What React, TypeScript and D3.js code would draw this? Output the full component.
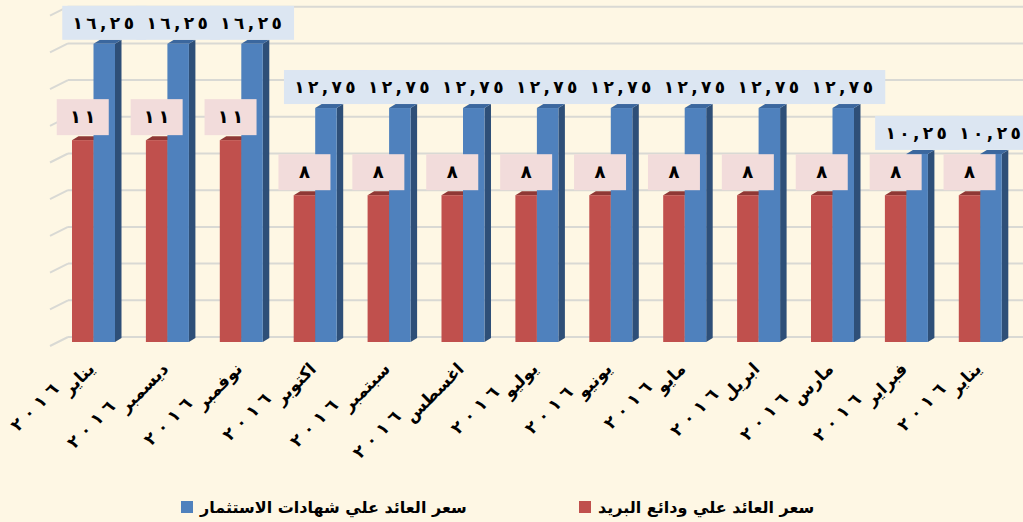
import { useEffect, useRef } from "react";
import * as d3 from "d3";

const months = ["يناير", "ديسمبر", "نوفمبر", "اكتوبر", "سبتمبر", "اغسطس", "يوليو", "يونيو", "مايو", "ابريل", "مارس", "فبراير", "يناير"];
const years = ["٢٠١٦", "٢٠١٦", "٢٠١٦", "٢٠١٦", "٢٠١٦", "٢٠١٦", "٢٠١٦", "٢٠١٦", "٢٠١٦", "٢٠١٦", "٢٠١٦", "٢٠١٦", "٢٠١٦"];
const postRates = [11, 11, 11, 8, 8, 8, 8, 8, 8, 8, 8, 8, 8];
const certRates = [16.25, 16.25, 16.25, 12.75, 12.75, 12.75, 12.75, 12.75, 12.75, 12.75, 12.75, 10.25, 10.25];
const seriesNames = ["سعر العائد علي ودائع البريد", "سعر العائد علي شهادات الاستثمار"];
const gridTicks = [0, 2, 4, 6, 8, 10, 12, 14, 16, 18];

const arDigits = "٠١٢٣٤٥٦٧٨٩";
const toArabic = (v: number) =>
  String(v).replace(".", ",").replace(/[0-9]/g, d => arDigits[+d]);
// force left-to-right glyph order and spread the characters out
const spaced = (s: string, sep: string) => "\u202D" + Array.from(s).join(sep) + "\u202C";

const FONT = "'DejaVu Sans', sans-serif";

export default function App() {
  const svgRef = useRef<SVGSVGElement>(null);

  useEffect(() => {
    const svg = d3.select(svgRef.current);
    svg.selectAll("*").remove();

    const width = 1023;
    const height = 522;
    svg.attr("width", width).attr("height", height);

    svg.append("rect").attr("width", width).attr("height", height).attr("fill", "#fef7e4");

    const y = d3.scaleLinear().domain([0, 18]).range([342, 11.7]);
    const x0 = d3.scaleBand<number>()
      .domain(d3.range(months.length))
      .range([56.55, 1017.25])
      .paddingInner(0.418)
      .paddingOuter(0.209);
    const x1 = d3.scaleBand<string>().domain(["post", "cert"]).range([0, x0.bandwidth()]);

    const depthX = 6.5;
    const depthY = -4;
    const wallBack = 68;
    const wallFront = 50;
    const backShift = -5;

    // walls / gridlines
    const grid = svg.append("g");
    grid.selectAll("line.h")
      .data(gridTicks)
      .enter()
      .append("line")
      .attr("x1", wallBack)
      .attr("x2", width)
      .attr("y1", d => y(d) + backShift)
      .attr("y2", d => y(d) + backShift)
      .attr("stroke", "#d9d9d4")
      .attr("stroke-width", 2);
    grid.selectAll("line.d")
      .data(gridTicks)
      .enter()
      .append("line")
      .attr("x1", wallFront)
      .attr("x2", wallBack)
      .attr("y1", d => y(d) + backShift + 9)
      .attr("y2", d => y(d) + backShift)
      .attr("stroke", "#d9d9d4")
      .attr("stroke-width", 2);

    const bar = (g: any, x: number, w: number, v: number, front: string, top: string, side: string) => {
      const yt = y(v);
      const yb = y(0);
      g.append("path")
        .attr("d", `M${x + w},${yb} L${x + w + depthX},${yb + depthY} L${x + w + depthX},${yt + depthY} L${x + w},${yt} Z`)
        .attr("fill", side);
      g.append("path")
        .attr("d", `M${x},${yt} L${x + depthX},${yt + depthY} L${x + w + depthX},${yt + depthY} L${x + w},${yt} Z`)
        .attr("fill", top);
      g.append("rect")
        .attr("x", x)
        .attr("y", yt)
        .attr("width", w)
        .attr("height", yb - yt)
        .attr("fill", front);
    };

    const bars = svg.append("g");
    months.forEach((_, i) => {
      const g = bars.append("g");
      const gx = x0(i)!;
      bar(g, gx + x1("post")!, x1.bandwidth(), postRates[i], "#c0504d", "#8f3835", "#7d2f2d");
      bar(g, gx + x1("cert")!, x1.bandwidth(), certRates[i], "#4f81bd", "#3b679e", "#2e4f78");
    });

    // data labels
    const labels = svg.append("g").attr("font-family", FONT).attr("font-weight", "bold");
    months.forEach((_, i) => {
      const cx = x0(i)! + x1("post")! + x1.bandwidth() / 2;
      const top = y(postRates[i]) - 5;
      labels.append("rect")
        .attr("x", cx - 26).attr("y", top - 36).attr("width", 52).attr("height", 36)
        .attr("fill", "#f2dcdb");
      labels.append("text")
        .attr("x", cx).attr("y", top - 12)
        .attr("text-anchor", "middle")
        .attr("font-size", 18)
        .text(spaced(toArabic(postRates[i]), "\u2009"));
    });
    months.forEach((_, i) => {
      const cx = x0(i)! + x1("cert")! + x1.bandwidth() / 2;
      const top = y(certRates[i]) - 4;
      labels.append("rect")
        .attr("x", cx - 42).attr("y", top - 34).attr("width", 84).attr("height", 34)
        .attr("fill", "#dce6f2");
    });
    months.forEach((_, i) => {
      const cx = x0(i)! + x1("cert")! + x1.bandwidth() / 2;
      const top = y(certRates[i]) - 4;
      labels.append("text")
        .attr("x", cx - 1).attr("y", top - 11)
        .attr("text-anchor", "middle")
        .attr("font-size", 17)
        .text(spaced(toArabic(certRates[i]), "\u2009"));
    });

    // category labels
    const axis = svg.append("g").attr("font-family", FONT).attr("font-weight", "bold").attr("fill", "#000");
    months.forEach((m, i) => {
      const cx = x0(i)! + x0.bandwidth() / 2;
      const g = axis.append("g").attr("transform", `translate(${cx + 2},370) rotate(-45)`);
      const word = g.append("text")
        .attr("text-anchor", "end")
        .attr("font-size", 17)
        .text(m);
      const w = (word.node() as SVGTextElement).getComputedTextLength();
      g.append("text")
        .attr("x", -w - 3)
        .attr("y", -11)
        .attr("text-anchor", "end")
        .attr("font-size", 17)
        .text(spaced(years[i], " "));
    });

    // legend
    const legend = svg.append("g").attr("font-family", FONT).attr("font-weight", "bold").attr("font-size", 16);
    const legendItems = [
      { name: seriesNames[1], color: "#4f81bd", x: 181 },
      { name: seriesNames[0], color: "#c0504d", x: 579 },
    ];
    legendItems.forEach(d => {
      legend.append("rect").attr("x", d.x).attr("y", 501).attr("width", 12).attr("height", 12).attr("fill", d.color);
      legend.append("text")
        .attr("x", d.x + 19)
        .attr("y", 513)
        .attr("text-anchor", "start")
        .text(d.name);
    });
  }, []);

  return <svg ref={svgRef} style={{ position: "absolute", left: 0, top: 0, display: "block" }} />;
}
